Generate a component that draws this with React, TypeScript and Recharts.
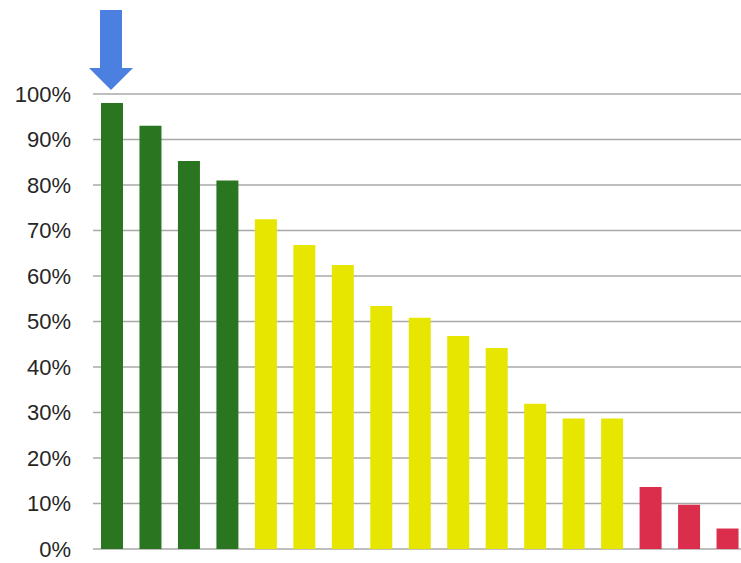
import React from "react";
import { BarChart, Bar, XAxis, YAxis, CartesianGrid, Cell, LabelList } from "recharts";

// Share of each item, sorted from highest to lowest
const items = ["1", "2", "3", "4", "5", "6", "7", "8", "9", "10", "11", "12", "13", "14", "15", "16", "17"];
const shares = [0.98, 0.93, 0.853, 0.81, 0.725, 0.668, 0.624, 0.534, 0.508, 0.468, 0.442, 0.319, 0.287, 0.287, 0.136, 0.097, 0.045];
const tiers = ["high", "high", "high", "high", "mid", "mid", "mid", "mid", "mid", "mid", "mid", "mid", "mid", "mid", "low", "low", "low"];
const yTicks = [0, 0.1, 0.2, 0.3, 0.4, 0.5, 0.6, 0.7, 0.8, 0.9, 1];

const tierColors: Record<string, string> = {
  high: "#2a7520",
  mid: "#e6e600",
  low: "#da2e4c",
};

const data = items.map((name, i) => ({ name, value: shares[i], tier: tiers[i] }));

// Downward arrow pointing at the top-ranked bar
const renderArrow = (props: any) => {
  const { x, y, width, index } = props;
  if (index !== 0) return null;
  const cx = Number(x) + Number(width) / 2 - 1;
  const top = Number(y);
  const tip = top - 13;
  const headBase = top - 35;
  const shaftTop = top - 93;
  const sw = 11;
  const hw = 22;
  const d = `M${cx - sw},${shaftTop} L${cx + sw},${shaftTop} L${cx + sw},${headBase} L${cx + hw},${headBase} L${cx},${tip} L${cx - hw},${headBase} L${cx - sw},${headBase} Z`;
  return <path d={d} fill="#4c80e0" />;
};

export default function App() {
  return (
    <div style={{ position: "absolute", left: 0, top: 0, width: 741, height: 563, overflow: "hidden", background: "#fff" }}>
      <BarChart
        width={747}
        height={563}
        data={data}
        margin={{ top: 94, right: 0, bottom: 14, left: 0 }}
        barCategoryGap={0}
      >
        <CartesianGrid vertical={false} stroke="#a8a8a8" strokeWidth={1.5} />
        <XAxis dataKey="name" hide />
        <YAxis
          width={93}
          domain={[0, 1]}
          ticks={yTicks}
          interval={0}
          axisLine={false}
          tickLine={false}
          tickSize={0}
          tickMargin={22}
          tickFormatter={(v: number) => `${Math.round(v * 100)}%`}
          tick={{ fill: "#262626", fontSize: 22, fontFamily: "Liberation Sans, Arial, sans-serif" }}
        />
        <Bar dataKey="value" barSize={22} isAnimationActive={false}>
          {data.map((d, i) => (
            <Cell key={i} fill={tierColors[d.tier]} />
          ))}
          <LabelList dataKey="value" content={renderArrow} />
        </Bar>
      </BarChart>
    </div>
  );
}
